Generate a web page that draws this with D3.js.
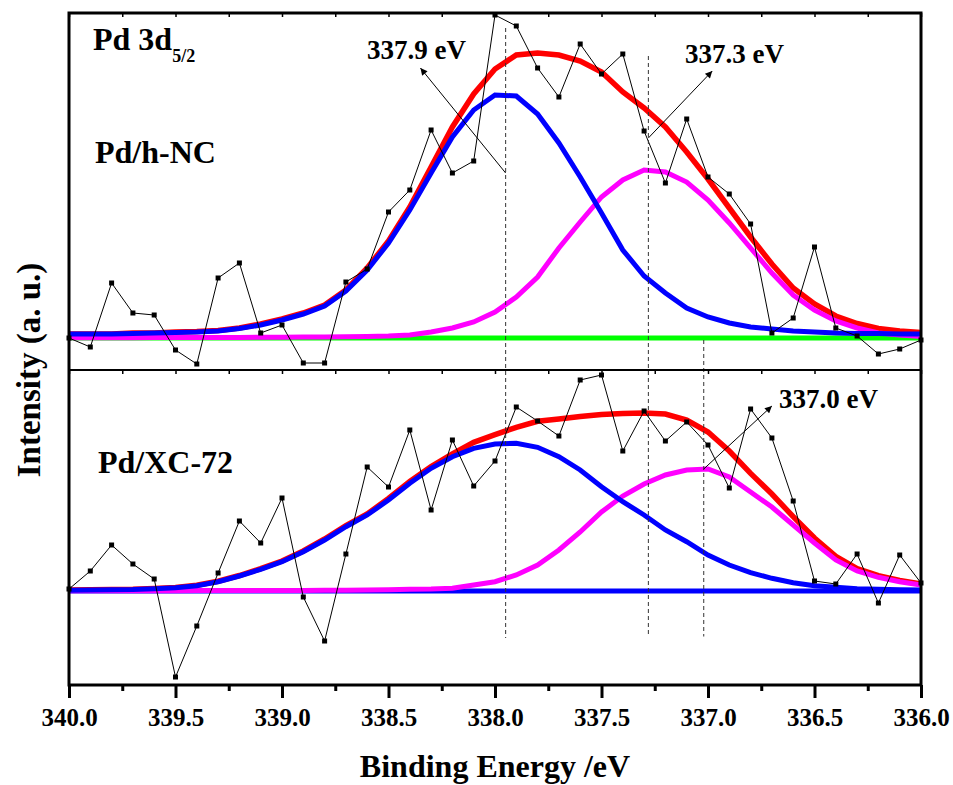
<!DOCTYPE html>
<html>
<head>
<meta charset="utf-8">
<script src="https://cdn.jsdelivr.net/npm/d3@7"></script>
<style>
body { margin: 0; background: #fff; }
</style>
</head>
<body>
<svg id="chart" width="953" height="785"></svg>
<script>
// binding energy grid, 0.1 eV steps
var energy = d3.range(41).map(function (i) { return +(340 - i * 0.1).toFixed(1); });

// Pd/h-NC (top panel), intensity above background, a.u.
var hncRaw = [0, -9, 55, 25, 23, -12, -26, 60, 75, 5, 13, -25, -25, 56, 69, 126, 148, 208, 165, 177,
    323, 312, 270, 241, 294, 264, 284, 207, 155, 219, 161, 144, 114, 5, 20, 91, 10, 2, -16, -11, -2];
var hncPeak1 = [4, 4, 4, 4.5, 5, 5.5, 6, 7, 9.5, 13, 18, 24, 32, 47, 68, 95, 128, 165, 201, 228,
    243, 242, 224, 195, 161, 125, 88, 62, 45, 30, 21, 15, 11, 9, 7, 6, 5, 4.5, 4.5, 4, 4];
var hncPeak2 = [0.3, 0.3, 0.3, 0.3, 0.4, 0.4, 0.5, 0.5, 0.6, 0.7, 0.8, 0.9, 1, 1.2, 1.5, 2, 3, 6, 10, 16,
    26, 41, 61, 90, 116, 141, 158, 168, 166, 156, 138, 115, 90, 65, 43, 28, 17, 10, 5, 3, 1.5];
var hncSum = [4, 4, 4, 5, 5, 6, 6.5, 7.5, 10, 14, 19, 25, 33, 48, 70, 97, 131, 171, 211, 244,
    269, 283, 285, 283, 277, 266, 246, 230, 211, 186, 159, 130, 101, 74, 50, 34, 22, 14.5, 9.5, 7, 5.5];

// Pd/XC-72 (bottom panel)
var xcRaw = [2, 20, 46, 27, 12, -86, -35, 18, 70, 48, 93, -6, -50, 37, 124, 104, 161, 81, 151, 105,
    130, 184, 170, 155, 211, 216, 140, 180, 150, 169, 146, 103, 182, 153, 90, 10, 7, 37, -12, 36, 8];
var xcPeak1 = [0.8, 1, 1.2, 1.5, 2.3, 3.3, 5.3, 9.3, 15, 21.7, 29.3, 39.3, 51, 64.3, 76, 91, 107.7, 122.7, 134.3, 142.7,
    147, 147.7, 143.7, 134.3, 121, 104.3, 89.3, 76, 61, 49.3, 36, 26, 18.3, 12.7, 8.3, 5.3, 3.7, 2.3, 1.7, 1.2, 1];
var xcPeak2 = [0.2, 0.2, 0.2, 0.3, 0.3, 0.3, 0.4, 0.4, 0.4, 0.5, 0.5, 0.6, 0.7, 0.8, 1, 1.3, 1.7, 1.9, 2.7, 6,
    9.3, 16, 26, 41, 59, 79, 95, 107, 116, 121, 122, 114, 99, 84, 66, 48, 31, 20, 13.7, 9.3, 6];
var xcSum = [1, 1.2, 1.5, 1.8, 2.6, 3.6, 5.7, 9.8, 15.5, 22.3, 30, 40, 52, 65.5, 77, 92.5, 109.5, 124.4, 137, 148.7,
    156.3, 163.7, 169.7, 172, 174.5, 176.5, 177.5, 178, 177, 171, 159, 140, 117.6, 97, 74.3, 53, 34.7, 22.3, 15.4, 10.5, 7];

var majorTicks = [340, 339.5, 339, 338.5, 338, 337.5, 337, 336.5, 336];
var minorTicks = [339.75, 339.25, 338.75, 338.25, 337.75, 337.25, 336.75, 336.25];
var peakLines = [337.95, 337.28, 337.02];

var FONT = "'Liberation Serif', 'Times New Roman', Tinos, 'Nimbus Roman', 'DejaVu Serif', 'Noto Serif', Times, serif";

var svg = d3.select("#chart");
var plotL = 69, plotR = 921, plotT = 13, plotM = 370, plotB = 685;

var x = d3.scaleLinear().domain([340, 336]).range([plotL, plotR]);
var yTop = d3.scaleLinear().domain([-32, 325]).range([plotM, plotT]);
var yBot = d3.scaleLinear().domain([-94, 221]).range([plotB, plotM]);

function drawPanel(y, raw, peak1, peak2, sum, baseColor) {
    var g = svg.append("g");
    var line = function (vals) {
        return d3.line()
            .x(function (d, i) { return x(energy[i]); })
            .y(function (d) { return y(d); })(vals);
    };
    g.append("line")
        .attr("x1", x(340)).attr("x2", x(336))
        .attr("y1", y(0)).attr("y2", y(0))
        .attr("stroke", baseColor).attr("stroke-width", 5);
    g.append("path").attr("d", line(sum))
        .attr("fill", "none").attr("stroke", "#ff0000").attr("stroke-width", 5.5);
    g.append("path").attr("d", line(peak2))
        .attr("fill", "none").attr("stroke", "#ff00ff").attr("stroke-width", 5);
    g.append("path").attr("d", line(peak1))
        .attr("fill", "none").attr("stroke", "#0000ff").attr("stroke-width", 5);
    g.append("path").attr("d", line(raw))
        .attr("fill", "none").attr("stroke", "#000").attr("stroke-width", 1);
    g.selectAll("rect.pt")
        .data(raw)
        .enter().append("rect")
        .attr("class", "pt")
        .attr("x", function (d, i) { return x(energy[i]) - 2.5; })
        .attr("y", function (d) { return y(d) - 2.5; })
        .attr("width", 5).attr("height", 5)
        .attr("fill", "#000");
}

drawPanel(yTop, hncRaw, hncPeak1, hncPeak2, hncSum, "#00ff00");
drawPanel(yBot, xcRaw, xcPeak1, xcPeak2, xcSum, "#0000ff");

// dashed peak positions running through both panels
var dashTop = [310, 282, -2];
var dashBot = [-47, -45.5, -45.5];
svg.append("g").selectAll("line")
    .data(peakLines)
    .enter().append("line")
    .attr("x1", function (d) { return x(d); })
    .attr("x2", function (d) { return x(d); })
    .attr("y1", function (d, i) { return yTop(dashTop[i]); })
    .attr("y2", function (d, i) { return yBot(dashBot[i]); })
    .attr("stroke", "#333").attr("stroke-width", 1)
    .attr("stroke-dasharray", "4,3");

// arrows
svg.append("defs").append("marker")
    .attr("id", "head")
    .attr("viewBox", "0 0 10 10")
    .attr("refX", 10).attr("refY", 5)
    .attr("markerWidth", 12).attr("markerHeight", 7)
    .attr("markerUnits", "userSpaceOnUse")
    .attr("orient", "auto")
    .append("path").attr("d", "M0,0L10,5L0,10z").attr("fill", "#000");

var arrows = [
    { y: yTop, from: [337.95, 165], to: [338.35, 270] },
    { y: yTop, from: [337.28, 200], to: [336.98, 267] },
    { y: yBot, from: [337.02, 122], to: [336.70, 185] }
];
svg.append("g").selectAll("line")
    .data(arrows)
    .enter().append("line")
    .attr("x1", function (d) { return x(d.from[0]); })
    .attr("y1", function (d) { return d.y(d.from[1]); })
    .attr("x2", function (d) { return x(d.to[0]); })
    .attr("y2", function (d) { return d.y(d.to[1]); })
    .attr("stroke", "#000").attr("stroke-width", 1)
    .attr("marker-end", "url(#head)");

// frame and axes
svg.append("rect")
    .attr("x", plotL).attr("y", plotT)
    .attr("width", plotR - plotL).attr("height", plotB - plotT)
    .attr("fill", "none").attr("stroke", "#000").attr("stroke-width", 3);
svg.append("line")
    .attr("x1", plotL).attr("x2", plotR).attr("y1", plotM).attr("y2", plotM)
    .attr("stroke", "#000").attr("stroke-width", 2);

var axisMajor = svg.append("g")
    .attr("transform", "translate(0," + plotB + ")")
    .call(d3.axisBottom(x).tickValues(majorTicks).tickSize(13).tickPadding(10)
        .tickFormat(d3.format(".1f")));
axisMajor.select(".domain").remove();
axisMajor.selectAll(".tick line").attr("stroke", "#000").attr("stroke-width", 3);
axisMajor.selectAll(".tick text")
    .style("font-family", FONT)
    .style("font-weight", "bold")
    .style("font-size", "25px")
    .attr("fill", "#000");

var axisMinor = svg.append("g")
    .attr("transform", "translate(0," + plotB + ")")
    .call(d3.axisBottom(x).tickValues(minorTicks).tickSize(6).tickFormat(""));
axisMinor.select(".domain").remove();
axisMinor.selectAll(".tick line").attr("stroke", "#000").attr("stroke-width", 3);

// small inner ticks of the upper panel
[plotT, plotM].forEach(function (yy) {
    var a = svg.append("g")
        .attr("transform", "translate(0," + yy + ")")
        .call(d3.axisBottom(x).tickValues(majorTicks.concat(minorTicks)).tickSize(4).tickFormat(""));
    a.select(".domain").remove();
    a.selectAll(".tick line").attr("stroke", "#000").attr("stroke-width", 1.5);
});

function label(xp, yp, size, txt) {
    return svg.append("text")
        .attr("x", xp).attr("y", yp)
        .style("font-family", FONT)
        .style("font-weight", "bold")
        .style("font-size", size + "px")
        .attr("fill", "#000")
        .text(txt);
}

// titles
label((plotL + plotR) / 2, 777, 32, "Binding Energy /eV").attr("text-anchor", "middle");
label(0, 0, 33, "Intensity (a. u.)")
    .attr("text-anchor", "middle")
    .attr("transform", "translate(40,370) rotate(-90)");

// panel labels
var t = label(93, 50, 32, "Pd 3d");
t.append("tspan").attr("dy", 12).style("font-size", "18px").text("5/2");
label(95, 163, 32, "Pd/h-NC");
label(98, 473, 32, "Pd/XC-72");

// peak labels
label(367, 59, 27, "337.9 eV");
label(685, 63, 27, "337.3 eV");
label(779, 408, 27, "337.0 eV");
</script>
</body>
</html>
